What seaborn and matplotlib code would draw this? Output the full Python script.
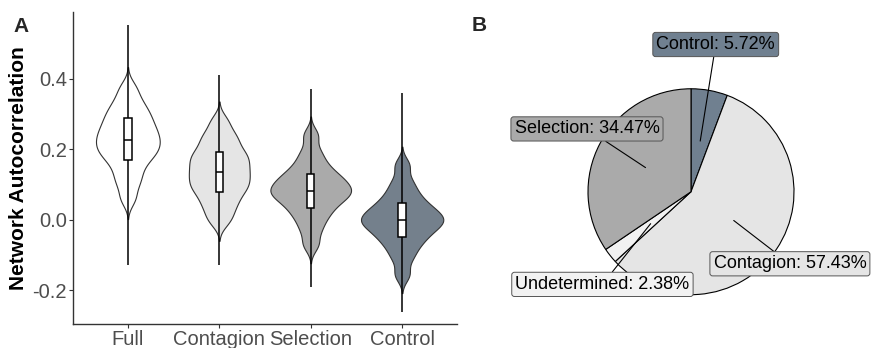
import numpy as np
import pandas as pd
import matplotlib
matplotlib.use("Agg")
import matplotlib.pyplot as plt
import seaborn as sns

# violin data: quantiles (min, 5%, 10%, ..., 95%, max)
groups = ["Full", "Contagion", "Selection", "Control"]
full_vals = [-0.127, 0.06, 0.10, 0.125, 0.150, 0.170, 0.183, 0.195, 0.206, 0.216, 0.227,
             0.238, 0.249, 0.261, 0.274, 0.289, 0.303, 0.320, 0.342, 0.375, 0.552]
contagion_vals = [-0.127, -0.005, 0.021, 0.044, 0.060, 0.080, 0.089, 0.102, 0.113, 0.125, 0.136,
                  0.148, 0.160, 0.172, 0.184, 0.193, 0.213, 0.230, 0.248, 0.281, 0.41]
selection_vals = [-0.19, -0.07, -0.03, -0.002, 0.018, 0.034, 0.048, 0.059, 0.069, 0.076, 0.083,
                  0.091, 0.10, 0.11, 0.12, 0.130, 0.146, 0.166, 0.194, 0.24, 0.37]
control_vals = [-0.26, -0.155, -0.11, -0.083, -0.063, -0.049, -0.035, -0.025, -0.015, -0.007, 0.0,
                0.007, 0.015, 0.025, 0.035, 0.047, 0.063, 0.083, 0.11, 0.155, 0.36]

# pie data (panel B)
pie_labels = ["Control", "Contagion", "Undetermined", "Selection"]
pie_values = [5.72, 57.43, 2.38, 34.47]

group_colors = {"Full": "#FFFFFF", "Contagion": "#E5E5E5", "Selection": "#AAAAAA", "Control": "#708090"}
pie_colors = ["#708090", "#E5E5E5", "#F2F2F2", "#AAAAAA"]

all_vals = [full_vals, contagion_vals, selection_vals, control_vals]
df = pd.DataFrame({
    "group": np.repeat(groups, [len(v) for v in all_vals]),
    "value": sum(all_vals, []),
})
# the violin body comes from the 5-95% quantiles, the thin tails from the whisker line
df_body = pd.DataFrame({
    "group": np.repeat(groups, [len(v) - 2 for v in all_vals]),
    "value": sum([v[1:-1] for v in all_vals], []),
})

sns.set_style("white")
plt.rcParams["font.family"] = ["Liberation Sans", "DejaVu Sans"]

fig = plt.figure(figsize=(8.73, 3.48), dpi=100)
ax = fig.add_axes([73 / 873, 24 / 348, 384 / 873, 312 / 348])

sns.violinplot(data=df_body, x="group", y="value", hue="group", order=groups, hue_order=groups,
               palette=group_colors, inner=None, cut=2.5, density_norm="area", common_norm=True,
               width=0.9, bw_adjust=0.5, linecolor="#333333", linewidth=0.8, legend=False, ax=ax)
sns.boxplot(data=df, x="group", y="value", order=groups, width=0.08, whis=(0, 100),
            showfliers=False, showcaps=False, color="white", linecolor="black",
            linewidth=1.1, ax=ax)

ax.set_xlim(-0.6, 3.6)
ax.set_ylim(-0.295, 0.589)
ax.set_yticks([-0.2, 0.0, 0.2, 0.4])
ax.set_yticklabels(["-0.2", "0.0", "0.2", "0.4"])
ax.set_xlabel("")
ax.set_ylabel("Network Autocorrelation", fontsize=15, fontweight="bold", color="black")
ax.yaxis.set_label_coords(-0.118, 0.5)
ax.tick_params(axis="both", labelsize=14.5, labelcolor="#4D4D4D", color="#333333",
               length=3, width=0.8, pad=1.5, left=True, bottom=True)
for side in ["top", "right"]:
    ax.spines[side].set_visible(False)
for side in ["left", "bottom"]:
    ax.spines[side].set_color("#333333")
    ax.spines[side].set_linewidth(1.0)

# pie panel
ax2 = fig.add_axes([495.3 / 873, 7 / 348, 377 / 873, 314 / 348])
wedges, _ = ax2.pie(pie_values, colors=pie_colors, startangle=90, counterclock=False,
                    wedgeprops=dict(edgecolor="black", linewidth=0.8))
ax2.set_aspect("auto")
ax2.set_xlim(-1.9, 1.76)
ax2.set_ylim(-1.45, 1.6)
ax2.axis("off")

label_pos = [(0.24, 1.43), (0.96, -0.70), (-0.86, -0.90), (-1.01, 0.61)]
for w, name, val, col, pos in zip(wedges, pie_labels, pie_values, pie_colors, label_pos):
    mid = np.deg2rad((w.theta1 + w.theta2) / 2)
    anchor = (0.5 * np.cos(mid), 0.5 * np.sin(mid))
    ax2.annotate(f"{name}: {val:.2f}%", xy=anchor, xytext=pos, ha="center", va="center",
                 fontsize=13, color="black",
                 bbox=dict(boxstyle="round,pad=0.2,rounding_size=0.15", fc=col, ec="#555555", lw=0.7),
                 arrowprops=dict(arrowstyle="-", color="black", lw=0.8, shrinkA=0, shrinkB=0))

fig.text(13 / 873, 1 - 32 / 348, "A", fontsize=15, fontweight="bold", va="baseline")
fig.text(472 / 873, 1 - 31 / 348, "B", fontsize=15, fontweight="bold", va="baseline")

fig.savefig("out.png", dpi=100)
